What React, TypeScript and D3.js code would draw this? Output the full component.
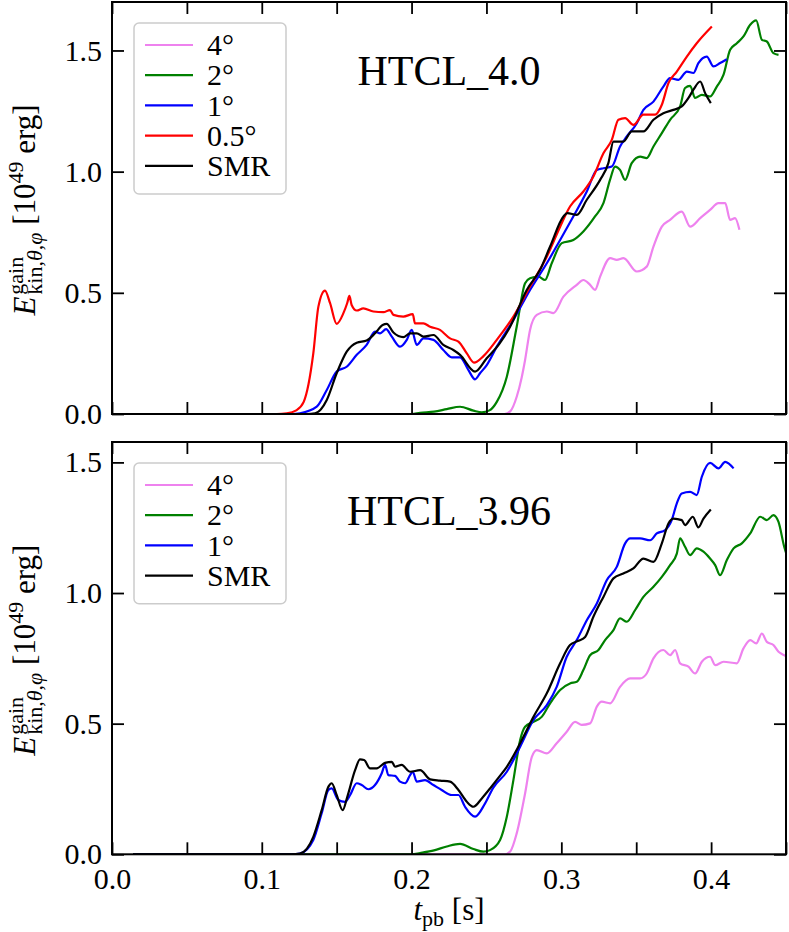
import React, { useEffect, useRef } from "react";
import * as d3 from "d3";

type Pt = [number, number];

const FONT = "'Liberation Serif', 'DejaVu Serif', serif";

// x ticks every 0.05 s, labels on every 0.1 s
const xTicks = [0, 0.05, 0.1, 0.15, 0.2, 0.25, 0.3, 0.35, 0.4, 0.45];
const xTickLabels = ["0.0", "0.1", "0.2", "0.3", "0.4"];
const yTicks = [0, 0.5, 1.0, 1.5];

const seriesNames = ["4°", "2°", "1°", "0.5°", "SMR"];
const seriesColors = ["#ee82ee", "#008000", "#0000ff", "#ff0000", "#000000"];

// ---- HTCL_4.0 (top panel) ----
const top4deg: Pt[] = [
  [0.014, 0], [0.262, 0], [0.266, 0.012], [0.2702, 0.071], [0.2735, 0.15], [0.2758, 0.223],
  [0.2791, 0.347], [0.2836, 0.409], [0.2903, 0.423], [0.2947, 0.416], [0.3014, 0.484],
  [0.3103, 0.533], [0.3147, 0.553], [0.3192, 0.533], [0.3225, 0.512], [0.3259, 0.567],
  [0.3326, 0.643], [0.337, 0.636], [0.3415, 0.643], [0.3504, 0.588], [0.357, 0.608],
  [0.3615, 0.691], [0.3671, 0.773], [0.3726, 0.801], [0.3804, 0.835], [0.386, 0.773],
  [0.3927, 0.808], [0.3993, 0.842], [0.4049, 0.87], [0.4094, 0.87], [0.4127, 0.801],
  [0.416, 0.808], [0.4189, 0.76],
];
const top2deg: Pt[] = [
  [0.014, 0], [0.2, 0], [0.2057, 0.005], [0.215, 0.01], [0.2235, 0.02], [0.2324, 0.03],
  [0.2413, 0.014], [0.2469, 0.007], [0.252, 0.015], [0.2569, 0.05], [0.2636, 0.154],
  [0.2702, 0.36], [0.2758, 0.54], [0.2791, 0.56], [0.2847, 0.567], [0.2891, 0.553],
  [0.2936, 0.622], [0.3003, 0.705], [0.308, 0.718], [0.3147, 0.753], [0.3225, 0.815],
  [0.3281, 0.87], [0.3325, 0.966], [0.3359, 1.021], [0.3392, 1.007], [0.3426, 0.966],
  [0.347, 1.035], [0.3526, 1.062], [0.357, 1.056], [0.3615, 1.104], [0.3671, 1.159],
  [0.3726, 1.214], [0.3793, 1.269], [0.3826, 1.345], [0.386, 1.354], [0.3893, 1.304],
  [0.3938, 1.317], [0.3993, 1.31], [0.4038, 1.351], [0.4083, 1.4], [0.4127, 1.503],
  [0.4172, 1.53], [0.4216, 1.558], [0.4261, 1.606], [0.4301, 1.624], [0.4339, 1.544],
  [0.4372, 1.537], [0.4416, 1.489], [0.445, 1.482],
];
const top1deg: Pt[] = [
  [0.014, 0], [0.12, 0], [0.1255, 0.003], [0.1367, 0.03], [0.1434, 0.099], [0.15, 0.175],
  [0.1567, 0.195], [0.1634, 0.244], [0.17, 0.285], [0.1756, 0.34], [0.179, 0.333],
  [0.183, 0.35], [0.1868, 0.319], [0.1923, 0.278], [0.1968, 0.306], [0.2001, 0.347],
  [0.2035, 0.285], [0.2079, 0.312], [0.2146, 0.306], [0.2212, 0.264], [0.2268, 0.234],
  [0.2324, 0.234], [0.2379, 0.182], [0.2424, 0.143], [0.2457, 0.168], [0.2502, 0.202],
  [0.2569, 0.278], [0.268, 0.388], [0.2791, 0.512], [0.2903, 0.622], [0.2992, 0.718],
  [0.308, 0.815], [0.317, 0.918], [0.3237, 1.007], [0.3281, 1.014], [0.3337, 1.021],
  [0.3392, 1.104], [0.3437, 1.145], [0.3504, 1.2], [0.3548, 1.255], [0.3615, 1.289],
  [0.3681, 1.351], [0.3726, 1.386], [0.3782, 1.379], [0.3838, 1.413], [0.3882, 1.407],
  [0.3915, 1.448], [0.3971, 1.475], [0.4016, 1.434], [0.406, 1.448], [0.4105, 1.464],
];
const topHalfDeg: Pt[] = [
  [0.014, 0], [0.11, 0], [0.1167, 0.003], [0.123, 0.015], [0.128, 0.05], [0.1344, 0.25],
  [0.1378, 0.443], [0.1422, 0.509], [0.1456, 0.457], [0.15, 0.372], [0.1545, 0.416],
  [0.157, 0.457], [0.1585, 0.487], [0.16, 0.45], [0.1634, 0.427], [0.1678, 0.436],
  [0.1745, 0.423], [0.1812, 0.42], [0.1856, 0.429], [0.1879, 0.409], [0.1945, 0.402],
  [0.2008, 0.412], [0.2023, 0.374], [0.2079, 0.374], [0.2124, 0.36], [0.219, 0.347],
  [0.2257, 0.312], [0.2313, 0.299], [0.2369, 0.25], [0.2417, 0.212], [0.248, 0.239],
  [0.2569, 0.306], [0.268, 0.402], [0.2791, 0.526], [0.2903, 0.649], [0.2992, 0.773],
  [0.3058, 0.856], [0.3147, 0.918], [0.3214, 0.98], [0.3281, 1.076], [0.3337, 1.131],
  [0.3381, 1.214], [0.3426, 1.221], [0.3481, 1.193], [0.3548, 1.235], [0.3626, 1.235],
  [0.3671, 1.276], [0.3715, 1.365], [0.3771, 1.413], [0.3838, 1.475], [0.3904, 1.53],
  [0.4005, 1.599],
];
const topSmr: Pt[] = [
  [0.014, 0], [0.13, 0], [0.1356, 0.003], [0.1434, 0.058], [0.15, 0.168], [0.1567, 0.257],
  [0.1634, 0.294], [0.17, 0.303], [0.1756, 0.333], [0.1807, 0.367], [0.1834, 0.372],
  [0.1879, 0.336], [0.1945, 0.317], [0.199, 0.333], [0.2035, 0.333], [0.2079, 0.319],
  [0.2146, 0.326], [0.2212, 0.285], [0.2279, 0.264], [0.2324, 0.244], [0.2424, 0.175],
  [0.2502, 0.23], [0.2586, 0.289], [0.2658, 0.36], [0.2769, 0.512], [0.2858, 0.595],
  [0.2925, 0.691], [0.3014, 0.815], [0.304, 0.829], [0.3103, 0.822], [0.317, 0.884],
  [0.3259, 0.966], [0.3314, 1.035], [0.3348, 1.124], [0.3414, 1.124], [0.347, 1.166],
  [0.3548, 1.166], [0.3615, 1.214], [0.3681, 1.241], [0.3748, 1.255], [0.3804, 1.269],
  [0.3849, 1.304], [0.3882, 1.338], [0.3927, 1.372], [0.396, 1.324], [0.3998, 1.283],
];

// ---- HTCL_3.96 (bottom panel) ----
const bot4deg: Pt[] = [
  [0.014, 0], [0.262, 0], [0.266, 0.012], [0.2702, 0.08], [0.2758, 0.233], [0.2803, 0.373],
  [0.2836, 0.399], [0.2903, 0.386], [0.2969, 0.425], [0.3036, 0.469], [0.3092, 0.507],
  [0.3136, 0.495], [0.3192, 0.501], [0.3237, 0.565], [0.327, 0.584], [0.3326, 0.578],
  [0.3392, 0.641], [0.3459, 0.673], [0.3526, 0.673], [0.357, 0.692], [0.3615, 0.75],
  [0.3681, 0.782], [0.3726, 0.762], [0.376, 0.782], [0.3793, 0.731], [0.3849, 0.718],
  [0.3893, 0.692], [0.3938, 0.737], [0.3993, 0.756], [0.4027, 0.724], [0.4083, 0.737],
  [0.4172, 0.731], [0.4216, 0.788], [0.4261, 0.82], [0.4301, 0.807], [0.4339, 0.845],
  [0.4372, 0.813], [0.4416, 0.801], [0.445, 0.775], [0.4488, 0.762], [0.452, 0.755],
];
const bot2deg: Pt[] = [
  [0.014, 0], [0.2, 0], [0.2057, 0.005], [0.215, 0.015], [0.2235, 0.03], [0.2324, 0.04],
  [0.2413, 0.02], [0.248, 0.01], [0.2524, 0.016], [0.2591, 0.055], [0.2636, 0.144],
  [0.268, 0.284], [0.2725, 0.437], [0.2758, 0.488], [0.2814, 0.507], [0.2869, 0.526],
  [0.2925, 0.578], [0.2992, 0.629], [0.3058, 0.654], [0.3103, 0.66], [0.3147, 0.705],
  [0.3192, 0.762], [0.3248, 0.782], [0.3292, 0.82], [0.3348, 0.858], [0.3392, 0.903],
  [0.3437, 0.89], [0.3493, 0.935], [0.3548, 0.985], [0.3615, 1.024], [0.3671, 1.062],
  [0.3726, 1.107], [0.3771, 1.151], [0.3793, 1.209], [0.3826, 1.177], [0.386, 1.145],
  [0.3904, 1.171], [0.3949, 1.158], [0.3993, 1.132], [0.4027, 1.107], [0.406, 1.068],
  [0.4105, 1.126], [0.415, 1.171], [0.4205, 1.19], [0.4261, 1.228], [0.4328, 1.292],
  [0.4372, 1.279], [0.4416, 1.298], [0.445, 1.272], [0.4488, 1.177], [0.452, 1.12],
];
const bot1deg: Pt[] = [
  [0.014, 0], [0.12, 0], [0.1255, 0.003], [0.1344, 0.055], [0.14, 0.157], [0.1445, 0.246],
  [0.1467, 0.252], [0.1511, 0.208], [0.1556, 0.201], [0.159, 0.227], [0.1634, 0.272],
  [0.1667, 0.265], [0.1712, 0.249], [0.1756, 0.265], [0.1801, 0.31], [0.1823, 0.342],
  [0.1845, 0.303], [0.189, 0.3], [0.1923, 0.278], [0.1957, 0.272], [0.199, 0.303],
  [0.2008, 0.316], [0.2035, 0.278], [0.209, 0.284], [0.2146, 0.265], [0.2201, 0.246],
  [0.2268, 0.227], [0.2313, 0.227], [0.2357, 0.182], [0.2424, 0.144], [0.2491, 0.195],
  [0.2546, 0.255], [0.2636, 0.316], [0.2725, 0.412], [0.2814, 0.514], [0.2903, 0.571],
  [0.2969, 0.641], [0.3036, 0.756], [0.3103, 0.82], [0.317, 0.896], [0.3237, 0.96],
  [0.3303, 1.049], [0.337, 1.1], [0.3426, 1.19], [0.3459, 1.209], [0.3526, 1.209],
  [0.3593, 1.202], [0.3637, 1.228], [0.3693, 1.241], [0.3737, 1.279], [0.3771, 1.343],
  [0.3804, 1.381], [0.386, 1.387], [0.3904, 1.375], [0.3938, 1.445], [0.3993, 1.498],
  [0.4049, 1.477], [0.4094, 1.502], [0.415, 1.477],
];
const botSmr: Pt[] = [
  [0.014, 0], [0.12, 0], [0.1255, 0.003], [0.1344, 0.067], [0.14, 0.169], [0.1445, 0.259],
  [0.1467, 0.272], [0.15, 0.227], [0.154, 0.169], [0.1571, 0.22], [0.1623, 0.322],
  [0.1656, 0.363], [0.1683, 0.361], [0.1723, 0.329], [0.1767, 0.329], [0.1823, 0.35],
  [0.1868, 0.354], [0.189, 0.335], [0.1934, 0.342], [0.199, 0.316], [0.2057, 0.322],
  [0.2124, 0.287], [0.219, 0.282], [0.2257, 0.278], [0.2313, 0.246], [0.2369, 0.201],
  [0.2413, 0.182], [0.2469, 0.214], [0.2524, 0.252], [0.2586, 0.297], [0.2636, 0.335],
  [0.2725, 0.425], [0.2814, 0.526], [0.2903, 0.616], [0.2992, 0.731], [0.3058, 0.801],
  [0.3114, 0.817], [0.3159, 0.832], [0.3214, 0.909], [0.3281, 0.985], [0.3348, 1.056],
  [0.3414, 1.075], [0.3481, 1.094], [0.3548, 1.132], [0.3615, 1.119], [0.3671, 1.19],
  [0.3715, 1.266], [0.3748, 1.285], [0.3804, 1.279], [0.3826, 1.26], [0.3878, 1.292],
  [0.3915, 1.251], [0.3949, 1.285], [0.3998, 1.32],
];

const panels = [
  {
    title: "HTCL_4.0",
    top: 2,
    bottom: 414,
    yMax: 1.7,
    series: [top4deg, top2deg, top1deg, topHalfDeg, topSmr],
    names: seriesNames,
    colors: seriesColors,
    xLabels: false,
  },
  {
    title: "HTCL_3.96",
    top: 442,
    bottom: 854.3,
    yMax: 1.578,
    series: [bot4deg, bot2deg, bot1deg, botSmr],
    names: [seriesNames[0], seriesNames[1], seriesNames[2], seriesNames[4]],
    colors: [seriesColors[0], seriesColors[1], seriesColors[2], seriesColors[4]],
    xLabels: true,
  },
];

export default function App() {
  const svgRef = useRef<SVGSVGElement>(null);

  useEffect(() => {
    const svg = d3.select(svgRef.current);
    svg.selectAll("*").remove();

    const left = 112;
    const right = 786;
    const tickLen = 12;

    const x = d3.scaleLinear().domain([0, 0.45]).range([left, right]);

    const styleAxis = (g: any) => {
      g.select(".domain").remove();
      g.selectAll(".tick line").attr("stroke", "#000").attr("stroke-width", 1.8);
      g.selectAll(".tick text")
        .attr("font-family", FONT)
        .attr("font-size", 30)
        .attr("fill", "#000");
    };

    panels.forEach((p, i) => {
      const y = d3.scaleLinear().domain([0, p.yMax]).range([p.bottom, p.top]);

      const clipId = `clip-${i}`;
      svg
        .append("clipPath")
        .attr("id", clipId)
        .append("rect")
        .attr("x", left)
        .attr("y", p.top)
        .attr("width", right - left)
        .attr("height", p.bottom - p.top);

      const line = d3
        .line<Pt>()
        .x((d) => x(d[0]))
        .y((d) => y(d[1]))
        .curve(d3.curveMonotoneX);

      const plot = svg.append("g").attr("clip-path", `url(#${clipId})`);
      p.series.forEach((s, j) => {
        plot
          .append("path")
          .datum(s)
          .attr("fill", "none")
          .attr("stroke", p.colors[j])
          .attr("stroke-width", 2.2)
          .attr("stroke-linejoin", "round")
          .attr("d", line);
      });

      // axes with inward ticks on all four sides
      const labelFmt = (d: any) => {
        const k = Math.round(d * 20);
        return p.xLabels && k % 2 === 0 ? xTickLabels[k / 2] ?? "" : "";
      };
      svg
        .append("g")
        .attr("transform", `translate(0,${p.bottom})`)
        .call(d3.axisBottom(x).tickValues(xTicks).tickSizeInner(-tickLen).tickSizeOuter(0).tickPadding(13).tickFormat(labelFmt))
        .call(styleAxis);
      svg
        .append("g")
        .attr("transform", `translate(0,${p.top})`)
        .call(d3.axisTop(x).tickValues(xTicks).tickSizeInner(-tickLen).tickSizeOuter(0).tickFormat(() => ""))
        .call(styleAxis);
      svg
        .append("g")
        .attr("transform", `translate(${left},0)`)
        .call(d3.axisLeft(y).tickValues(yTicks).tickSizeInner(-tickLen).tickSizeOuter(0).tickPadding(10).tickFormat(d3.format(".1f")))
        .call(styleAxis);
      svg
        .append("g")
        .attr("transform", `translate(${right},0)`)
        .call(d3.axisRight(y).tickValues(yTicks).tickSizeInner(-tickLen).tickSizeOuter(0).tickFormat(() => ""))
        .call(styleAxis);

      // frame
      svg
        .append("rect")
        .attr("x", left)
        .attr("y", p.top)
        .attr("width", right - left)
        .attr("height", p.bottom - p.top)
        .attr("fill", "none")
        .attr("stroke", "#000")
        .attr("stroke-width", 2);

      // title
      svg
        .append("text")
        .attr("x", (left + right) / 2)
        .attr("y", p.top + 83)
        .attr("text-anchor", "middle")
        .attr("font-family", FONT)
        .attr("font-size", 42)
        .text(p.title);

      // legend
      const legTop = p.top + 21;
      const rowH = 30.2;
      const legH = p.names.length * rowH + 20;
      const leg = svg.append("g");
      leg
        .append("rect")
        .attr("x", 134)
        .attr("y", legTop)
        .attr("width", 152)
        .attr("height", legH)
        .attr("rx", 5)
        .attr("fill", "#fff")
        .attr("fill-opacity", 0.8)
        .attr("stroke", "#cccccc")
        .attr("stroke-width", 1.5);
      p.names.forEach((name, j) => {
        const cy = legTop + 22 + j * rowH;
        leg
          .append("line")
          .attr("x1", 145)
          .attr("x2", 193)
          .attr("y1", cy)
          .attr("y2", cy)
          .attr("stroke", p.colors[j])
          .attr("stroke-width", 2.2);
        leg
          .append("text")
          .attr("x", 207)
          .attr("y", cy)
          .attr("dy", "0.34em")
          .attr("font-family", FONT)
          .attr("font-size", 30)
          .text(name);
      });

      // y label
      const cy = (p.top + p.bottom) / 2 + 2;
      const t = svg
        .append("text")
        .attr("transform", `translate(35,${cy}) rotate(-90)`)
        .attr("text-anchor", "middle")
        .attr("font-family", FONT)
        .attr("font-size", 31);
      t.append("tspan").attr("font-style", "italic").text("E");
      const sup = t.append("tspan").attr("font-size", 22).attr("dx", 2).attr("dy", -12).text("gain");
      const w = (sup.node() as SVGTextContentElement).getComputedTextLength();
      t.append("tspan").attr("font-size", 22).attr("dx", -w).attr("dy", 19).text("kin,");
      t.append("tspan").attr("font-size", 22).attr("font-style", "italic").text("θ");
      t.append("tspan").attr("font-size", 22).text(",");
      t.append("tspan").attr("font-size", 22).attr("font-style", "italic").text("φ");
      t.append("tspan").attr("dy", -7).text(" [10");
      t.append("tspan").attr("font-size", 22).attr("dy", -12).text("49");
      t.append("tspan").attr("dy", 12).text(" erg]");
    });

    // x label
    const xl = svg
      .append("text")
      .attr("x", (left + right) / 2)
      .attr("y", 920)
      .attr("text-anchor", "middle")
      .attr("font-family", FONT)
      .attr("font-size", 31);
    xl.append("tspan").attr("font-style", "italic").text("t");
    xl.append("tspan").attr("font-size", 22).attr("dy", 6).text("pb");
    xl.append("tspan").attr("dy", -6).text(" [s]");
  }, []);

  return (
    <svg
      ref={svgRef}
      width={789}
      height={932}
      style={{ position: "absolute", left: 0, top: 0, background: "#fff" }}
    ></svg>
  );
}
